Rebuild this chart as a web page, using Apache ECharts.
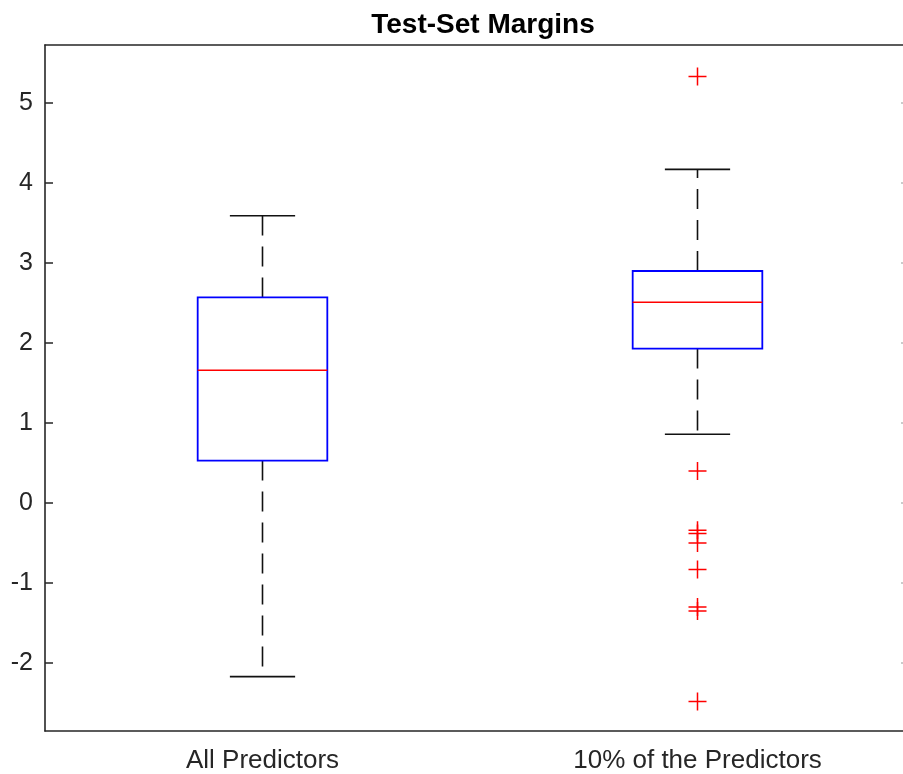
<!DOCTYPE html>
<html>
<head>
<meta charset="utf-8">
<script src="https://cdn.jsdelivr.net/npm/echarts@6/dist/echarts.min.js"></script>
<style>html,body{margin:0;padding:0;background:#fff}#c{width:903px;height:774px}</style>
</head>
<body>
<div id="c"></div>
<script>
var categories = ['All Predictors', '10% of the Predictors'];
var whiskerLow = [-2.17, 0.86];
var q1 = [0.53, 1.93];
var median = [1.66, 2.51];
var q3 = [2.57, 2.90];
var whiskerHigh = [3.59, 4.17];
var outliers0 = [];
var outliers1 = [5.33, 0.40, -0.34, -0.38, -0.50, -0.83, -1.30, -1.35, -2.48];
var yTicks = [-2, -1, 0, 1, 2, 3, 4, 5];

var boxData = categories.map(function (c, i) {
  return [i, whiskerLow[i], q1[i], median[i], q3[i], whiskerHigh[i]];
});
var outlierData = [];
outliers0.forEach(function (v) { outlierData.push([0, v]); });
outliers1.forEach(function (v) { outlierData.push([1, v]); });

var FONT = '"Liberation Sans", Arial, Helvetica, sans-serif';
var AX = '#262626';

function renderBox(params, api) {
  var x = api.value(0);
  var band = api.size([1, 0])[0];
  var bh = band * 0.149;
  var ch = band * 0.075;
  var pLow = api.coord([x, api.value(1)]);
  var pQ1 = api.coord([x, api.value(2)]);
  var pMed = api.coord([x, api.value(3)]);
  var pQ3 = api.coord([x, api.value(4)]);
  var pHigh = api.coord([x, api.value(5)]);
  var cx = pQ1[0];
  var dash = { stroke: '#111', lineWidth: 1.6, lineDash: [20, 11] };
  var solid = { stroke: '#111', lineWidth: 1.6 };
  return {
    type: 'group',
    children: [
      { type: 'line', shape: { x1: cx, y1: pQ3[1], x2: cx, y2: pHigh[1] }, style: dash },
      { type: 'line', shape: { x1: cx, y1: pQ1[1], x2: cx, y2: pLow[1] }, style: dash },
      { type: 'line', shape: { x1: cx - ch, y1: pHigh[1], x2: cx + ch, y2: pHigh[1] }, style: solid },
      { type: 'line', shape: { x1: cx - ch, y1: pLow[1], x2: cx + ch, y2: pLow[1] }, style: solid },
      { type: 'rect', shape: { x: cx - bh, y: pQ3[1], width: 2 * bh, height: pQ1[1] - pQ3[1] },
        style: { fill: 'none', stroke: '#0000ff', lineWidth: 1.8 } },
      { type: 'line', shape: { x1: cx - bh, y1: pMed[1], x2: cx + bh, y2: pMed[1] },
        style: { stroke: '#ff0000', lineWidth: 1.6 } }
    ]
  };
}

var chart = echarts.init(document.getElementById('c'), null, { renderer: 'canvas' });
chart.setOption({
  animation: false,
  backgroundColor: '#fff',
  title: {
    text: 'Test-Set Margins',
    left: 478, top: 6, textAlign: 'center',
    textStyle: { fontFamily: FONT, fontSize: 28, fontWeight: 'bold', color: '#000' }
  },
  grid: { left: 45, width: 870, top: 45, bottom: 43, outerBoundsMode: 'none', containLabel: false },
  xAxis: [{
    type: 'category', data: categories, position: 'bottom',
    axisLine: { onZero: false, lineStyle: { color: AX, width: 1.6 } },
    axisTick: { inside: true, alignWithLabel: true, length: 8, lineStyle: { color: AX, width: 1.5 } },
    axisLabel: { fontFamily: FONT, fontSize: 26, color: '#262626', margin: 17 },
    splitLine: { show: false }
  }, {
    type: 'category', data: categories, position: 'top',
    axisLine: { onZero: false, lineStyle: { color: AX, width: 1.6 } },
    axisTick: { inside: true, alignWithLabel: true, length: 8, lineStyle: { color: AX, width: 1.5 } },
    axisLabel: { show: false },
    splitLine: { show: false }
  }],
  yAxis: [{
    type: 'value', min: -2.85, max: 5.725, position: 'left',
    axisLine: { show: true, onZero: false, lineStyle: { color: AX, width: 1.6 } },
    axisTick: { show: true, inside: true, length: 8, customValues: yTicks, lineStyle: { color: AX, width: 1.5 } },
    axisLabel: { customValues: yTicks, fontFamily: FONT, fontSize: 25, color: '#262626', margin: 12 },
    splitLine: { show: false }
  }, {
    type: 'value', min: -2.85, max: 5.725, position: 'right',
    axisLine: { show: true, onZero: false, lineStyle: { color: AX, width: 1.6 } },
    axisTick: { show: true, inside: true, length: 14, customValues: yTicks, lineStyle: { color: '#bbb', width: 1.5 } },
    axisLabel: { show: false },
    splitLine: { show: false }
  }],
  series: [{
    type: 'custom',
    xAxisIndex: 0, yAxisIndex: 0,
    renderItem: renderBox,
    data: boxData,
    silent: true
  }, {
    type: 'scatter',
    xAxisIndex: 0, yAxisIndex: 0,
    data: outlierData,
    symbol: 'path://M0,9L18,9M9,0L9,18',
    symbolSize: 18,
    itemStyle: { color: 'none', borderColor: '#ff0000', borderWidth: 1.5, opacity: 1 },
    silent: true
  }]
});
</script>
</body>
</html>
